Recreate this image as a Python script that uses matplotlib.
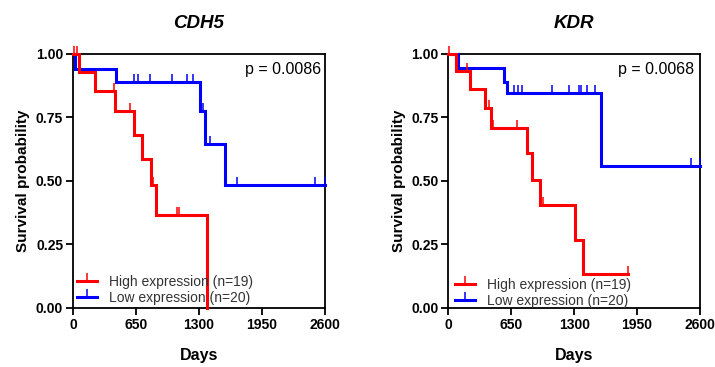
import numpy as np
import matplotlib
matplotlib.use("Agg")
import matplotlib.pyplot as plt
from matplotlib.path import Path
from matplotlib.lines import Line2D

plt.rcParams['font.family'] = ['Liberation Sans', 'DejaVu Sans']

# ---- Kaplan-Meier step data (time in days, survival probability) ----
cdh5_high_times = [0, 60, 224, 437, 627, 716, 803, 861, 1388]
cdh5_high_surv = [1.0, 0.928, 0.856, 0.777, 0.681, 0.586, 0.485, 0.364, 0.0]
cdh5_high_censor = [15, 40, 424, 589, 827, 1075, 1095]

cdh5_low_times = [0, 24, 450, 1309, 1367, 1571]
cdh5_low_surv = [1.0, 0.94, 0.889, 0.777, 0.645, 0.485]
cdh5_low_censor = [455, 627, 672, 792, 1023, 1178, 1243, 1343, 1419, 1698, 2497, 2600]

kdr_high_times = [0, 76, 224, 379, 437, 809, 868, 947, 1309, 1395]
kdr_high_surv = [1.0, 0.931, 0.861, 0.786, 0.708, 0.609, 0.505, 0.406, 0.269, 0.134]
kdr_high_censor = [12, 196, 424, 465, 706, 982, 1860]

kdr_low_times = [0, 103, 575, 603, 1578]
kdr_low_surv = [1.0, 0.944, 0.891, 0.845, 0.56]
kdr_low_censor = [590, 679, 723, 765, 1068, 1250, 1350, 1367, 1429, 1516, 2504, 2600]

genes = ["CDH5", "KDR"]
p_values = ["0.0086", "0.0068"]
group_labels = ["High expression (n=19)", "Low expression (n=20)"]
x_ticks = [0, 650, 1300, 1950, 2600]
y_ticks = [0.0, 0.25, 0.5, 0.75, 1.0]

RED = "#ff0000"
BLUE = "#0000ff"
LW = 2.2

# upward censor tick marker
tick_path = Path([(0, 0), (0, 1)], [Path.MOVETO, Path.LINETO])


def km_curve(ax, times, surv, censor, color):
    times = list(times)
    surv = list(surv)
    end = max(times[-1], max(censor) if censor else 0)
    xs = times + [end]
    ys = surv + [surv[-1]]
    ax.step(xs, ys, where="post", color=color, lw=LW, solid_joinstyle="miter",
            clip_on=False, zorder=3)
    idx = np.searchsorted(times, censor, side="right") - 1
    cy = np.array(surv)[idx]
    ax.plot(censor, cy, linestyle="none", marker=tick_path, markersize=11,
            markeredgewidth=1.1, color=color, clip_on=False, zorder=3)


panels = [
    (cdh5_high_times, cdh5_high_surv, cdh5_high_censor,
     cdh5_low_times, cdh5_low_surv, cdh5_low_censor),
    (kdr_high_times, kdr_high_surv, kdr_high_censor,
     kdr_low_times, kdr_low_surv, kdr_low_censor),
]

fig = plt.figure(figsize=(7.15, 3.67), dpi=100)
lefts = [0.102, 0.627]
legend_anchor = [(0.016, 0.012), (0.028, 0.0)]
p_x = [0.987, 0.975]

for i, (ht, hs, hc, lt, ls, lc) in enumerate(panels):
    ax = fig.add_axes([lefts[i], 0.161, 0.352, 0.692])
    km_curve(ax, lt, ls, lc, BLUE)
    km_curve(ax, ht, hs, hc, RED)

    ax.set_xlim(0, 2600)
    ax.set_ylim(0, 1.0)
    ax.set_xticks(x_ticks)
    ax.set_xticklabels([str(t) for t in x_ticks], fontweight="bold", fontsize=10)
    ax.set_yticks(y_ticks)
    ax.set_yticklabels([f"{v:.2f}" for v in y_ticks], fontweight="bold", fontsize=10)
    ax.tick_params(direction="out", length=5, width=1.3, pad=2)
    for sp in ax.spines.values():
        sp.set_linewidth(1.3)

    ax.set_xlabel("Days", fontweight="bold", fontsize=11.5, labelpad=12)
    ax.set_ylabel("Survival probability", fontweight="bold", fontsize=11, labelpad=4)
    ax.set_title(genes[i], fontweight="bold", fontstyle="italic", fontsize=13.5, pad=19)

    ax.text(p_x[i], 0.94, f"p = {p_values[i]}", transform=ax.transAxes,
            ha="right", va="center", fontsize=11.5)

    handles = [
        Line2D([], [], color=RED, lw=LW, marker=tick_path, markersize=11,
               markeredgewidth=1.1),
        Line2D([], [], color=BLUE, lw=LW, marker=tick_path, markersize=11,
               markeredgewidth=1.1),
    ]
    leg = ax.legend(handles, group_labels, loc="lower left", frameon=False,
                    handlelength=1.45, handletextpad=0.85,
                    labelspacing=0.12, borderaxespad=0.0, borderpad=0.0,
                    numpoints=1, prop={"size": 10},
                    bbox_to_anchor=legend_anchor[i])
    for t in leg.get_texts():
        t.set_color("#333333")

fig.savefig("out.png", dpi=100)
